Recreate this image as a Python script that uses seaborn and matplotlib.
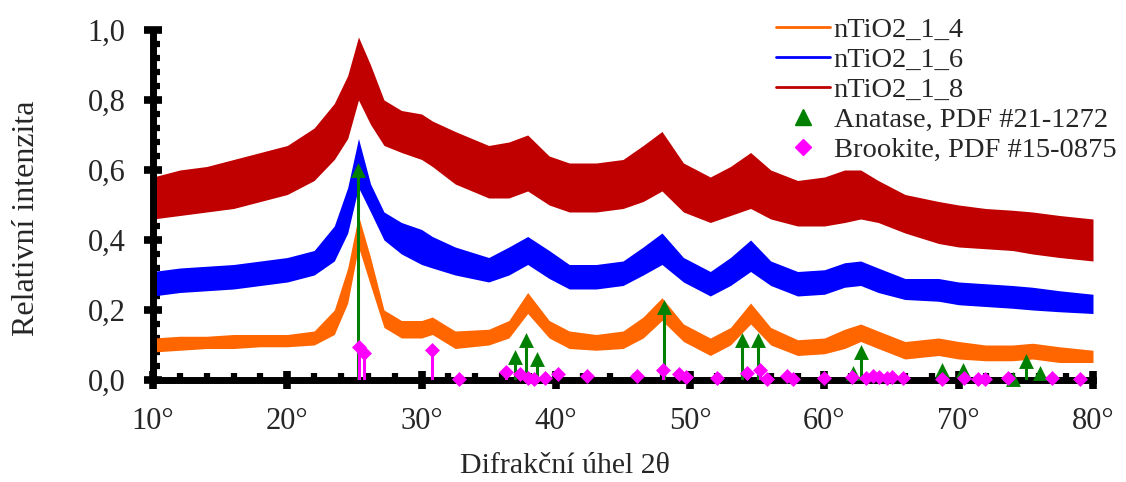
import matplotlib
matplotlib.use("Agg")
import matplotlib.pyplot as plt
from matplotlib.lines import Line2D
from matplotlib.ticker import MultipleLocator
import seaborn as sns
import pandas as pd

# --- data (lower / upper edge of each noisy trace) ---
angle = [10, 12, 14, 16, 18, 20, 22, 23.5, 24.5, 25.3, 26.2, 27.2, 28.5, 30, 30.8,
         32.5, 35, 36.5, 37.9, 39.5, 41, 43, 45, 46.5, 47.9, 49.5, 51.5, 53, 54.5,
         56, 58, 60, 61.5, 62.7, 64, 66, 68.5, 70, 72, 74, 75.5, 77.5, 80]

n14_low = [0.08, 0.085, 0.09, 0.09, 0.095, 0.095, 0.10, 0.13, 0.22, 0.38, 0.27, 0.15, 0.12,
           0.12, 0.13, 0.09, 0.10, 0.12, 0.19, 0.12, 0.09, 0.085, 0.09, 0.12, 0.17, 0.11,
           0.07, 0.10, 0.16, 0.10, 0.07, 0.075, 0.09, 0.11, 0.09, 0.06, 0.07, 0.06, 0.055,
           0.055, 0.06, 0.05, 0.05]
n14_high = [0.12, 0.125, 0.125, 0.13, 0.13, 0.13, 0.14, 0.20, 0.32, 0.47, 0.35, 0.20, 0.17,
            0.17, 0.18, 0.14, 0.145, 0.17, 0.25, 0.17, 0.14, 0.13, 0.14, 0.18, 0.235, 0.16,
            0.12, 0.15, 0.22, 0.15, 0.115, 0.12, 0.145, 0.16, 0.14, 0.11, 0.12, 0.11, 0.10,
            0.10, 0.105, 0.095, 0.085]

n16_low = [0.24, 0.25, 0.255, 0.26, 0.27, 0.28, 0.30, 0.34, 0.42, 0.55, 0.48, 0.40, 0.36,
           0.33, 0.32, 0.30, 0.28, 0.30, 0.33, 0.29, 0.26, 0.26, 0.27, 0.30, 0.33, 0.28,
           0.24, 0.27, 0.31, 0.27, 0.24, 0.245, 0.265, 0.27, 0.25, 0.23, 0.225, 0.215, 0.21,
           0.205, 0.20, 0.195, 0.19]
n16_high = [0.31, 0.32, 0.325, 0.33, 0.34, 0.35, 0.37, 0.44, 0.55, 0.69, 0.56, 0.48, 0.45,
            0.43, 0.41, 0.38, 0.35, 0.38, 0.41, 0.37, 0.33, 0.33, 0.34, 0.38, 0.42, 0.35,
            0.31, 0.35, 0.40, 0.34, 0.31, 0.315, 0.335, 0.34, 0.32, 0.29, 0.29, 0.28, 0.275,
            0.27, 0.265, 0.255, 0.245]

n18_low = [0.46, 0.47, 0.48, 0.49, 0.51, 0.53, 0.57, 0.63, 0.69, 0.80, 0.73, 0.67, 0.65,
           0.63, 0.61, 0.56, 0.52, 0.52, 0.54, 0.50, 0.48, 0.48, 0.49, 0.51, 0.54, 0.48,
           0.45, 0.47, 0.49, 0.46, 0.44, 0.44, 0.45, 0.46, 0.45, 0.42, 0.39, 0.38, 0.375,
           0.37, 0.36, 0.35, 0.34]
n18_high = [0.58, 0.60, 0.61, 0.63, 0.65, 0.67, 0.72, 0.79, 0.87, 0.98, 0.90, 0.80, 0.77,
            0.76, 0.74, 0.71, 0.67, 0.68, 0.70, 0.64, 0.62, 0.62, 0.63, 0.67, 0.71, 0.62,
            0.58, 0.61, 0.65, 0.60, 0.57, 0.58, 0.60, 0.60, 0.57, 0.53, 0.51, 0.50, 0.49,
            0.485, 0.48, 0.47, 0.46]

samples = ["nTiO2_1_4", "nTiO2_1_6", "nTiO2_1_8"]
colors = ["#FF6600", "#0000FF", "#C00000"]

# reference lines (PDF cards)
anatase_pos = [25.28, 36.95, 37.80, 38.58, 48.05, 53.89, 55.06, 62.12, 62.69, 68.76,
               70.31, 74.03, 75.03, 76.02]
anatase_int = [0.60, 0.065, 0.115, 0.06, 0.21, 0.115, 0.115, 0.02, 0.08, 0.03,
               0.03, 0.004, 0.055, 0.02]

brookite_pos = [25.34, 25.69, 30.81, 32.79, 36.25, 37.30, 37.93, 38.37, 39.20, 40.15,
                42.34, 46.07, 48.01, 49.17, 49.69, 52.01, 54.20, 55.23, 55.72, 57.18,
                57.68, 59.99, 62.06, 63.06, 63.65, 64.06, 64.63, 65.02, 65.87, 68.76,
                70.43, 71.43, 71.98, 73.65, 76.95, 79.03]
brookite_int = [0.095, 0.078, 0.086, 0.004, 0.024, 0.016, 0.006, 0.004, 0.005, 0.016,
                0.012, 0.012, 0.028, 0.016, 0.008, 0.006, 0.02, 0.028, 0.004, 0.011,
                0.004, 0.006, 0.01, 0.006, 0.011, 0.009, 0.007, 0.008, 0.007, 0.004,
                0.007, 0.004, 0.004, 0.005, 0.006, 0.004]

xticks = [10, 20, 30, 40, 50, 60, 70, 80]
xtick_labels = ["10°", "20°", "30°", "40°", "50°", "60°", "70°", "80°"]
yticks = [0.0, 0.2, 0.4, 0.6, 0.8, 1.0]
ytick_labels = ["0,0", "0,2", "0,4", "0,6", "0,8", "1,0"]

# long table: two rows per angle (low/high edge) -> seaborn draws min-max band
frames = []
for name, lo, hi in zip(samples, [n14_low, n16_low, n18_low], [n14_high, n16_high, n18_high]):
    frames.append(pd.DataFrame({"angle": angle, "intensity": lo, "sample": name}))
    frames.append(pd.DataFrame({"angle": angle, "intensity": hi, "sample": name}))
df = pd.concat(frames, ignore_index=True)

sns.set_style("white")
plt.rcParams["font.family"] = ["Liberation Serif", "DejaVu Serif"]

fig = plt.figure(figsize=(11.26, 4.82), dpi=100)
ax = fig.add_axes([0.1359, 0.2116, 0.8348, 0.7262])

sns.lineplot(data=df, x="angle", y="intensity", hue="sample", hue_order=samples,
             palette=colors, estimator="mean", errorbar=("pi", 100),
             err_kws={"alpha": 1, "linewidth": 0}, linewidth=1.5, legend=False, ax=ax)

# stems + markers
ax.vlines(anatase_pos, 0, anatase_int, colors="#008000", linewidth=2.2, zorder=3)
ax.vlines(brookite_pos, 0, brookite_int, colors="#FF00FF", linewidth=2.2, zorder=3)
sns.scatterplot(x=anatase_pos, y=anatase_int, marker="^", s=115, color="#008000",
                linewidth=0, zorder=4, clip_on=False, ax=ax)
sns.scatterplot(x=brookite_pos, y=brookite_int, marker="D", s=58, color="#FF00FF",
                linewidth=0, zorder=5, clip_on=False, ax=ax)

ax.set_xlim(10, 80)
ax.set_ylim(0, 1.0)
ax.set_xticks(xticks)
ax.set_xticklabels(xtick_labels)
ax.set_yticks(yticks)
ax.set_yticklabels(ytick_labels)
ax.xaxis.set_minor_locator(MultipleLocator(2))
ax.yaxis.set_minor_locator(MultipleLocator(0.04))

for side in ["top", "right"]:
    ax.spines[side].set_visible(False)
for side in ["left", "bottom"]:
    ax.spines[side].set_linewidth(5)
    ax.spines[side].set_color("black")

ax.tick_params(which="major", direction="inout", length=13.5, width=5.5,
               labelsize=22, pad=13, color="black", bottom=True, left=True)
ax.tick_params(which="minor", direction="in", length=5, width=4.5,
               color="black", bottom=True, left=True)

ax.set_xlabel("Difrakční úhel 2θ", fontsize=21.5, va="center")
ax.set_ylabel("Relativní intenzita", fontsize=23, va="center")
ax.xaxis.set_label_coords(0.438, -0.247)
ax.yaxis.set_label_coords(-0.1346, 0.463)

handles = [Line2D([], [], color=c, linewidth=2) for c in colors]
handles.append(Line2D([], [], color="#008000", marker="^", linestyle="none", markersize=11))
handles.append(Line2D([], [], color="#FF00FF", marker="D", linestyle="none", markersize=8))
labels = samples + ["Anatase, PDF #21-1272", "Brookite, PDF #15-0875"]
ax.legend(handles, labels, loc="upper left", bbox_to_anchor=(762 / 1126, 1 - 3 / 482),
          bbox_transform=fig.transFigure, frameon=False, borderpad=0, fontsize=20.5,
          handlelength=1.9, handletextpad=0.12, labelspacing=0.14)

fig.savefig("out.png", dpi=100)
